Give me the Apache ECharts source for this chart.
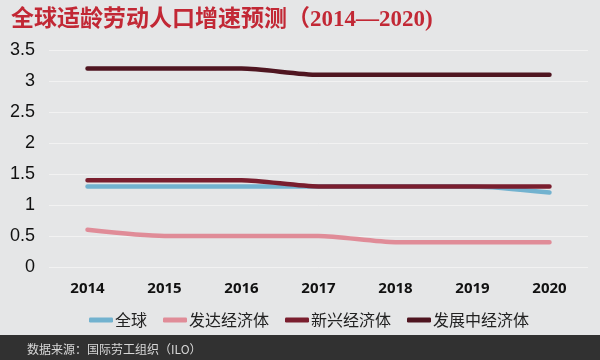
<!DOCTYPE html>
<html><head><meta charset="utf-8">
<script src="https://cdn.jsdelivr.net/npm/echarts@6/dist/echarts.min.js"></script>
<style>html,body{margin:0;padding:0;background:#e5e6e7;}#c{width:600px;height:360px;}</style>
</head><body><div id="c"></div>
<script>
var titleText = '全球适龄劳动人口增速预测（2014—2020)';
var sourceText = '数据来源：国际劳工组织（ILO）';
var years = ['2014','2015','2016','2017','2018','2019','2020'];
var seriesNames = ['全球','发达经济体','新兴经济体','发展中经济体'];
var globalVals = [1.3,1.3,1.3,1.3,1.3,1.3,1.2];
var developedVals = [0.6,0.5,0.5,0.5,0.4,0.4,0.4];
var emergingVals = [1.4,1.4,1.4,1.3,1.3,1.3,1.3];
var developingVals = [3.2,3.2,3.2,3.1,3.1,3.1,3.1];
var colors = ['#72b2cf','#e08c98','#7a1e2e','#4f1520'];
var allVals = [globalVals, developedVals, emergingVals, developingVals];
var chart = echarts.init(document.getElementById('c'));
var series = seriesNames.map(function(n,i){
  return {name:n,type:'line',data:allVals[i],smooth:0.25,symbol:'none',
    lineStyle:{width:4.5,color:colors[i],cap:'round'},itemStyle:{color:colors[i]},z:2+i};
});
chart.setOption({
  backgroundColor:'#e5e6e7',
  animation:false,
  title:{text:titleText,left:6,top:4,textStyle:{color:'#c22835',fontSize:23,fontWeight:'bold',fontFamily:'"Liberation Serif", "Noto Sans CJK SC", serif'}},
  graphic:[
    {type:'rect',shape:{x:0,y:335,width:600,height:25},style:{fill:'#313131'}},
    {type:'text',left:27,top:343,style:{text:sourceText,fill:'#d8d8d8',font:'12px "Noto Sans CJK SC"'}}
  ],
  legend:{data:seriesNames,top:307,left:84,itemWidth:24,itemHeight:5,itemGap:16,icon:'roundRect',
    textStyle:{fontSize:16,color:'#222',padding:[0,0,0,-3],fontFamily:'"Noto Sans CJK SC"'}},
  grid:{left:49,right:12,top:50,bottom:93},
  xAxis:{type:'category',data:years,boundaryGap:true,axisLine:{show:false},axisTick:{show:false},
    axisLabel:{fontSize:15,fontWeight:'bold',color:'#111',margin:14,fontFamily:'"Open Sans", sans-serif'}},
  yAxis:{type:'value',min:0,max:3.5,interval:0.5,axisLine:{show:false},axisTick:{show:false},
    splitLine:{lineStyle:{color:'#f2f2f2',width:1}},
    axisLabel:{fontSize:18,color:'#111',margin:14,fontFamily:'"Liberation Sans", sans-serif'}},
  series:series
});
</script></body></html>
